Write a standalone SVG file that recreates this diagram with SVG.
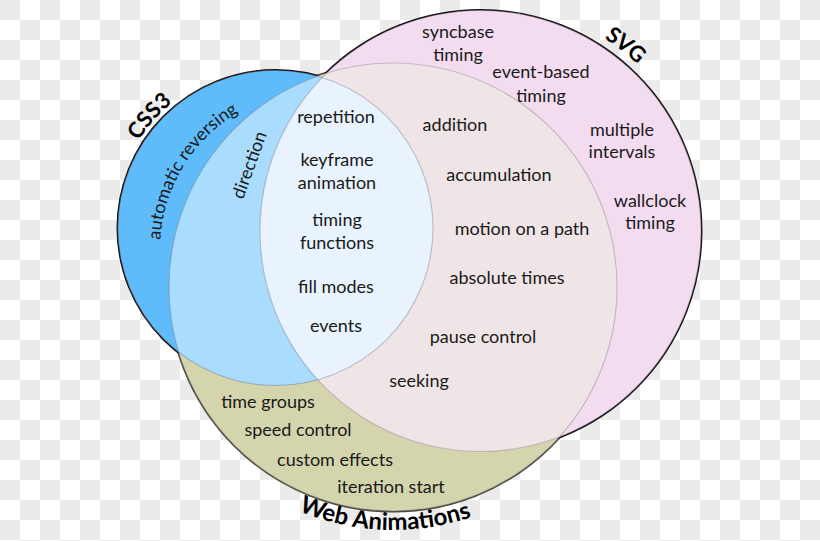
<svg xmlns="http://www.w3.org/2000/svg" width="820" height="541" viewBox="0 0 820 541">
<defs>
<pattern id="chk" width="40" height="40" patternUnits="userSpaceOnUse">
<rect width="40" height="40" fill="#ffffff"/>
<rect width="20" height="20" fill="#ebebeb"/>
<rect x="20" y="20" width="20" height="20" fill="#ebebeb"/>
</pattern>
<circle id="cirCss" cx="275.5" cy="228" r="157.5"/>
<circle id="cirSvg" cx="480.5" cy="231" r="220.5"/>
<circle id="cirWa" cx="393" cy="287" r="224"/>
<clipPath id="cCss"><use href="#cirCss"/></clipPath>
<clipPath id="cSvg"><use href="#cirSvg"/></clipPath>
<path id="pAuto" d="M162.4,277.8 A160,160 0 0 1 273.2,97"/>
<path id="pCss" d="M116,199.9 A163,163 0 0 1 228.1,72"/>
<path id="pSvg" d="M520.3,5.5 A229,229 0 0 1 689.7,137.8"/>
<path id="pWa" d="M206.9,443.2 A243,243 0 0 0 567.8,455.8"/>
</defs>
<style>
text { font-family: Lato, "Open Sans", "Liberation Sans", sans-serif; font-size: 18px; fill: #1a1a1a; text-anchor: middle; }
.lbl { font-weight: bold; font-size: 22px; fill: #000000; }
.big { font-size: 24px; }
.edge { fill: none; stroke-width: 3; }
.inner { fill: none; stroke: #7a6a7a; stroke-opacity: 0.35; stroke-width: 1.2; }
</style>
<rect width="820" height="541" fill="url(#chk)"/>

<g id="outlines">
<use href="#cirWa" class="edge" stroke="#4a4a3a"/>
<use href="#cirSvg" class="edge" stroke="#111111"/>
<use href="#cirCss" class="edge" stroke="#111111"/>
</g>

<g id="fills">
<use href="#cirWa" fill="#d4d4ad"/>
<use href="#cirSvg" fill="#f3dcf0"/>
<use href="#cirCss" fill="#5fbbfa"/>
<use href="#cirWa" fill="#efe5e6" clip-path="url(#cSvg)"/>
<use href="#cirWa" fill="#a9dcfd" clip-path="url(#cCss)"/>
<g clip-path="url(#cCss)"><use href="#cirWa" fill="#e8f3fd" clip-path="url(#cSvg)"/></g>
</g>

<g id="inner-lines">
<use href="#cirWa" class="inner"/>
<use href="#cirSvg" class="inner"/>
<use href="#cirCss" class="inner"/>
</g>

<g id="css3">
<text class="lbl"><textPath href="#pCss" startOffset="50%">CSS3</textPath></text>
<text><textPath href="#pAuto" startOffset="50%">automatic reversing</textPath></text>
<text transform="translate(255,167) rotate(-70)">direction</text>
</g>

<g id="svg">
<text class="lbl"><textPath href="#pSvg" startOffset="50%">SVG</textPath></text>
<text x="458" y="38">syncbase</text>
<text x="458" y="61">timing</text>
<text x="541" y="78">event-based</text>
<text x="541" y="102">timing</text>
<text x="622" y="136">multiple</text>
<text x="622" y="158">intervals</text>
<text x="650" y="207">wallclock</text>
<text x="650" y="229">timing</text>
</g>

<g id="web-animations">
<text class="lbl big"><textPath href="#pWa" startOffset="50%">Web Animations</textPath></text>
<text x="268" y="408">time groups</text>
<text x="298" y="436">speed control</text>
<text x="335" y="466">custom effects</text>
<text x="391" y="493">iteration start</text>
</g>

<g id="svg-web-animations">
<text x="455" y="131">addition</text>
<text x="499" y="181">accumulation</text>
<text x="522" y="235">motion on a path</text>
<text x="507" y="284">absolute times</text>
<text x="483" y="343">pause control</text>
<text x="419" y="387">seeking</text>
</g>

<g id="all-three">
<text x="336" y="123">repetition</text>
<text x="337" y="166">keyframe</text>
<text x="337" y="189">animation</text>
<text x="337" y="226">timing</text>
<text x="337" y="249">functions</text>
<text x="336" y="293">fill modes</text>
<text x="336" y="332">events</text>
</g>

<g id="connectors"></g>
</svg>
